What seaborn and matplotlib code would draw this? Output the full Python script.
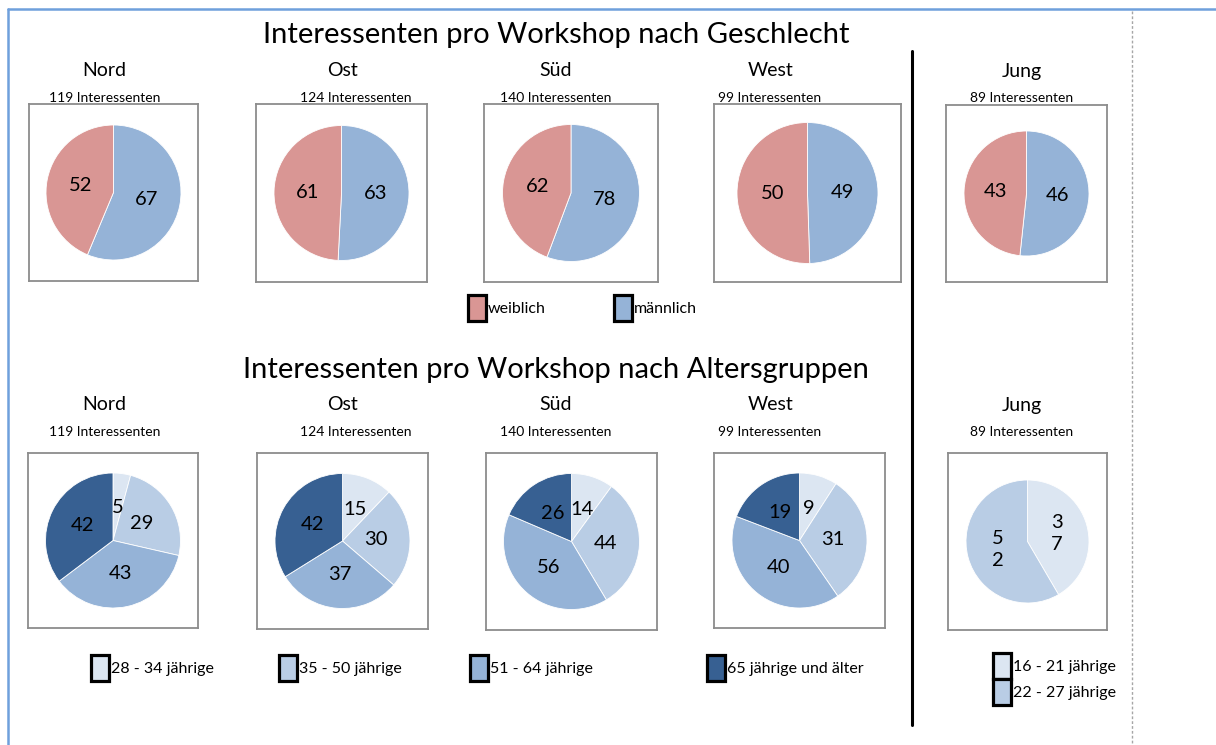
import numpy as np
import matplotlib
matplotlib.use('Agg')
import matplotlib.pyplot as plt
import seaborn as sns
from matplotlib.patches import Patch
from matplotlib.lines import Line2D

sns.set_theme(style='white')
plt.rcParams['font.family'] = ['Lato', 'DejaVu Sans']
plt.rcParams['text.color'] = 'black'

# data
workshops = ['Nord', 'Ost', 'Süd', 'West', 'Jung']
weiblich = [52, 61, 62, 50, 43]
maennlich = [67, 63, 78, 49, 46]

age_groups = ['28 - 34 jährige', '35 - 50 jährige', '51 - 64 jährige', '65 jährige und älter']
age_nord = [5, 29, 43, 42]
age_ost = [15, 30, 37, 42]
age_sued = [14, 44, 56, 26]
age_west = [9, 31, 40, 19]
jung_groups = ['16 - 21 jährige', '22 - 27 jährige']
age_jung = [37, 52]

gender_colors = sns.color_palette(['#D99694', '#95B3D7'])
age_colors = sns.color_palette(['#DCE6F2', '#B9CDE5', '#95B3D7', '#376092'])

W, H = 1216, 745
fig = plt.figure(figsize=(W / 100, H / 100), dpi=100)

def fx(x):
    return x / W

def fy(y):
    return 1 - y / H

# layout of the panel boxes in pixels (left, top, right, bottom) and pie diameters
top_boxes = [(29, 104, 198, 281), (256, 104, 427, 282), (484, 104, 658, 282),
             (714, 104, 901, 282), (946, 105, 1107, 282)]
bottom_boxes = [(28, 453, 198, 628), (257, 453, 428, 629), (486, 453, 657, 630),
                (714, 453, 885, 628), (948, 453, 1107, 630)]
top_diam = [135, 135, 137, 141, 125]
bottom_diam = [135, 135, 136, 135, 123]
name_x = [104, 343, 556, 771, 1022]
count_x = [105, 356, 556, 770, 1022]


def pie_panel(box, diam, values, colors, wrap=False):
    l, t, r, b = box
    ax = fig.add_axes([fx(l), fy(b), (r - l) / W, (b - t) / H])
    wedges, texts, autotexts = ax.pie(values, colors=colors, startangle=90, counterclock=False,
                                      autopct='%1.0f', pctdistance=0.5,
                                      wedgeprops=dict(edgecolor='white', linewidth=0.6),
                                      textprops=dict(fontsize=14.5, color='black'))
    for t_, v in zip(autotexts, values):
        t_.set_text('\n'.join(str(v)) if wrap else str(v))
        t_.set_linespacing(1.3)
    ax.set_aspect('auto')
    ax.set_xlim(-(r - l) / diam, (r - l) / diam)
    ax.set_ylim(-(b - t) / diam, (b - t) / diam)
    ax.set_frame_on(True)
    for s in ax.spines.values():
        s.set_visible(True)
        s.set_color('#8c8c8c')
        s.set_linewidth(1.3)
    ax.set_xticks([])
    ax.set_yticks([])
    return ax


# top: gender
fig.text(fx(556), fy(35), 'Interessenten pro Workshop nach Geschlecht', ha='center', va='center', fontsize=21)
for i, name in enumerate(workshops):
    total = weiblich[i] + maennlich[i]
    fig.text(fx(name_x[i]), fy(71), name, ha='center', va='center', fontsize=14)
    fig.text(fx(count_x[i]), fy(98), f'{total} Interessenten', ha='center', va='center', fontsize=10)
    pie_panel(top_boxes[i], top_diam[i], [maennlich[i], weiblich[i]], [gender_colors[1], gender_colors[0]])

# bottom: age groups
age_data = [age_nord, age_ost, age_sued, age_west, age_jung]
fig.text(fx(556), fy(370), 'Interessenten pro Workshop nach Altersgruppen', ha='center', va='center', fontsize=21)
for i, name in enumerate(workshops):
    vals = age_data[i]
    fig.text(fx(name_x[i]), fy(405), name, ha='center', va='center', fontsize=14)
    fig.text(fx(count_x[i]), fy(432), f'{sum(vals)} Interessenten', ha='center', va='center', fontsize=10)
    cols = age_colors[:len(vals)]
    pie_panel(bottom_boxes[i], bottom_diam[i], vals, cols, wrap=(name == 'Jung'))


def legend_entry(x, y, labels, colors):
    handles = [Patch(facecolor=c, edgecolor='black', linewidth=2.3, joinstyle='round') for c in colors]
    fig.legend(handles, labels, loc='center left', bbox_to_anchor=(fx(x), fy(y)),
               frameon=False, fontsize=11.5, handlelength=1.15, handleheight=2.1,
               handletextpad=0.1, borderpad=0, borderaxespad=0, labelspacing=0)


legend_entry(468, 308, ['weiblich'], [gender_colors[0]])
legend_entry(614, 308, ['männlich'], [gender_colors[1]])
age_leg_x = [91, 279, 470, 707]
for i, lab in enumerate(age_groups):
    legend_entry(age_leg_x[i], 668, [lab], [age_colors[i]])
legend_entry(993, 679, jung_groups, age_colors[:2])

# frame lines
fig.add_artist(Line2D([fx(8), fx(8)], [fy(9), fy(745)], color='#6fa0dc', lw=1.8))
fig.add_artist(Line2D([fx(8), fx(1216)], [fy(9), fy(9)], color='#6fa0dc', lw=1.8))
fig.add_artist(Line2D([fx(1132), fx(1132)], [fy(11), fy(745)], color='#a6a6a6', lw=1.0, ls=(0, (2, 1.5))))
fig.add_artist(Line2D([fx(912), fx(912)], [fy(51), fy(725)], color='black', lw=2.2))

fig.savefig('out.png', dpi=100)
